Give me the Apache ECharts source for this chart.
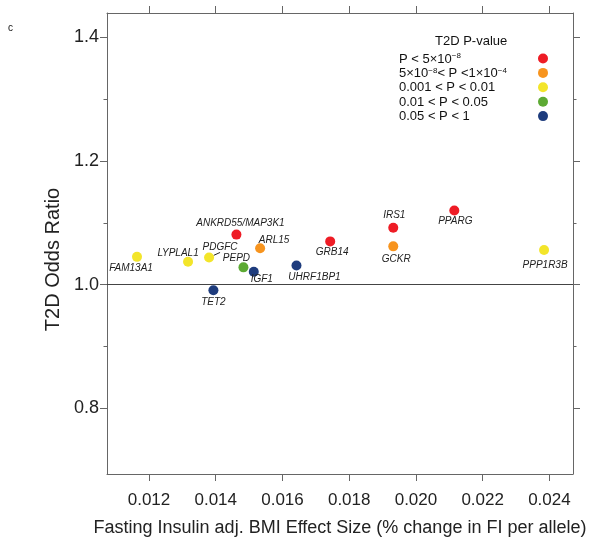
<!DOCTYPE html>
<html>
<head>
<meta charset="utf-8">
<script src="https://cdn.jsdelivr.net/npm/echarts@6/dist/echarts.min.js"></script>
<style>html,body{margin:0;background:#fff}#main{width:600px;height:542px}</style>
</head>
<body>
<div id="main"></div>
<script>
// values
var genes = ['FAM13A1','LYPLAL1','PDGFC','ANKRD55/MAP3K1','ARL15','PEPD','IGF1','TET2','UHRF1BP1','GRB14','IRS1','GCKR','PPARG','PPP1R3B'];
var fiEffect = [0.01164,0.01317,0.01380,0.01462,0.01533,0.01483,0.01514,0.01393,0.01642,0.01743,0.01932,0.01932,0.02115,0.02384];
var t2dOR = [1.045,1.037,1.044,1.081,1.059,1.028,1.021,0.991,1.031,1.070,1.092,1.062,1.120,1.056];
var pGroup = [2,2,2,0,1,3,4,4,4,0,0,1,0,2];
var groupNames = ['P < 5×10{s|−8}','5×10{s|−8}< P <1×10{s|−4}','0.001 < P < 0.01','0.01 < P < 0.05','0.05 < P < 1'];
var groupColors = ['#ee1c25','#f7941e','#f3e52a','#5daa34','#1e3c7d'];
var xTicks = [0.012,0.014,0.016,0.018,0.020,0.022,0.024];
var yTicks = [0.8,1.0,1.2,1.4];
var yMinorTicks = [0.9,1.1,1.3];

// label placement around each dot (centre offset in px)
var labelOffset = {
  'FAM13A1':[-6,11],'LYPLAL1':[-10,-9],'PDGFC':[11,-10],'ANKRD55/MAP3K1':[4,-11],
  'ARL15':[14,-8],'PEPD':[-7,-9],'IGF1':[8,8],'TET2':[0,12],'UHRF1BP1':[18,12],
  'GRB14':[2,11],'IRS1':[1,-13],'GCKR':[3,13],'PPARG':[1,11],'PPP1R3B':[1,15]
};

var font = 'Liberation Sans';
var xMin = 0.010741, xMax = 0.024707, yMin = 0.6935, yMax = 1.4397;
var axisColor = '#666';

var series = groupNames.map(function(name, g){
  var data = [];
  genes.forEach(function(gene, i){
    if (pGroup[i] !== g) return;
    var item = {
      name: gene,
      value: [fiEffect[i], t2dOR[i]],
      label: {offset: labelOffset[gene]}
    };
    if (gene === 'PDGFC') {
      item.labelLine = {show: true, length2: 0, lineStyle: {color: '#222', width: 1}};
    }
    data.push(item);
  });
  var s = {
    name: name,
    type: 'scatter',
    symbolSize: 10,
    itemStyle: {color: groupColors[g], opacity: 1},
    label: {
      show: true, position: 'inside', formatter: '{b}',
      fontFamily: font, fontStyle: 'italic', fontSize: 10, color: '#222'
    },
    data: data
  };
  if (g === 0) {
    s.markLine = {
      silent: true, symbol: 'none', label: {show: false},
      lineStyle: {color: '#444', width: 1, type: 'solid'},
      data: [{yAxis: 1}]
    };
  }
  return s;
});

var myChart = echarts.init(document.getElementById('main'));
var option = {
  backgroundColor: '#fff',
  animation: false,
  textStyle: {fontFamily: font},
  title: [
    {text: 'T2D P-value', left: 430, top: 30, textStyle: {fontFamily: font, fontSize: 13, fontWeight: 'normal', color: '#111'}},
    {text: 'c', left: 3, top: 18, textStyle: {fontFamily: font, fontSize: 10, fontWeight: 'normal', color: '#111'}}
  ],
  // text column and dot column of the legend
  legend: [
    {
      orient: 'vertical', left: 394, top: 52, padding: 0, icon: 'none',
      itemWidth: 0, itemHeight: 10, itemGap: 0.4, selectedMode: false,
      data: groupNames,
      textStyle: {
        fontFamily: font, fontSize: 13, color: '#111', lineHeight: 14,
        rich: {s: {fontFamily: font, fontSize: 8, lineHeight: 8, verticalAlign: 'top', color: '#111'}}
      }
    },
    {
      orient: 'vertical', left: 538, top: 51.5, padding: 0, icon: 'circle',
      itemWidth: 10, itemHeight: 10, itemGap: 0.4, selectedMode: false,
      data: groupNames,
      formatter: function(){ return ' '; },
      textStyle: {fontSize: 13, lineHeight: 14}
    }
  ],
  grid: {left: 107, right: 27, top: 13, bottom: 67},
  xAxis: [
    {
      type: 'value', min: xMin, max: xMax, position: 'bottom',
      name: 'Fasting Insulin adj. BMI Effect Size (% change in FI per allele)',
      nameLocation: 'middle', nameGap: 45,
      nameTextStyle: {fontFamily: font, fontSize: 18, color: '#222'},
      splitLine: {show: false},
      axisLine: {show: true, lineStyle: {color: axisColor}},
      axisTick: {customValues: xTicks, length: 7, lineStyle: {color: axisColor}},
      axisLabel: {customValues: xTicks, margin: 18, fontSize: 17, color: '#222',
        formatter: function(v){ return v.toFixed(3); }}
    },
    {
      type: 'value', min: xMin, max: xMax, position: 'top',
      splitLine: {show: false},
      axisLine: {show: true, lineStyle: {color: axisColor}},
      axisTick: {customValues: xTicks, length: 7, lineStyle: {color: axisColor}},
      axisLabel: {show: false}
    }
  ],
  yAxis: [
    {
      type: 'value', min: yMin, max: yMax, position: 'left',
      name: 'T2D Odds Ratio', nameLocation: 'middle', nameGap: 34,
      nameTextStyle: {fontFamily: font, fontSize: 20, color: '#222', padding: [0, 32, 0, 0]},
      splitLine: {show: false},
      axisLine: {show: true, lineStyle: {color: axisColor}},
      axisTick: {customValues: yTicks, length: 7, lineStyle: {color: axisColor}},
      axisLabel: {customValues: yTicks, margin: 8, fontSize: 18, color: '#222',
        formatter: function(v){ return v.toFixed(1); }}
    },
    {
      type: 'value', min: yMin, max: yMax, position: 'right',
      splitLine: {show: false},
      axisLine: {show: true, lineStyle: {color: axisColor}},
      axisTick: {customValues: yTicks, length: 7, lineStyle: {color: axisColor}},
      axisLabel: {show: false}
    },
    {
      type: 'value', min: yMin, max: yMax, position: 'left',
      splitLine: {show: false}, axisLine: {show: false},
      axisTick: {customValues: yMinorTicks, length: 3.5, lineStyle: {color: axisColor}},
      axisLabel: {show: false}
    },
    {
      type: 'value', min: yMin, max: yMax, position: 'right',
      splitLine: {show: false}, axisLine: {show: false},
      axisTick: {customValues: yMinorTicks, length: 3.5, lineStyle: {color: axisColor}},
      axisLabel: {show: false}
    }
  ],
  series: series
};
myChart.setOption(option);
</script>
</body>
</html>
